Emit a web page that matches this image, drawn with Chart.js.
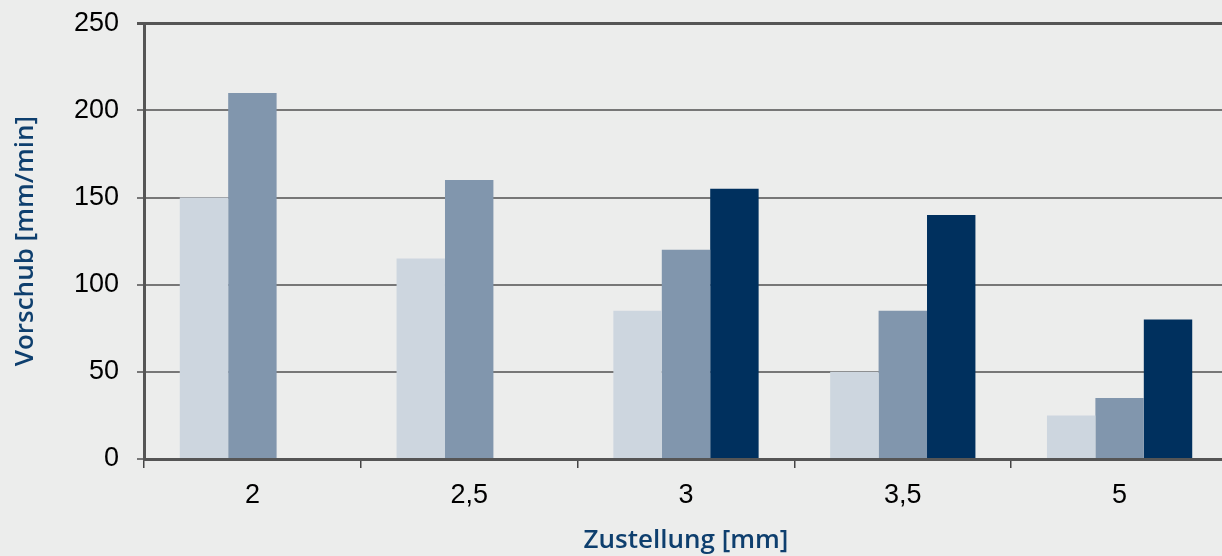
<!DOCTYPE html>
<html>
<head>
<meta charset="utf-8">
<script src="https://cdn.jsdelivr.net/npm/chart.js@4/dist/chart.umd.min.js"></script>
<style>
html,body{margin:0;padding:0;background:#ecedec;overflow:hidden;}
#wrap{width:1228px;height:567px;margin-top:-11px;}
</style>
</head>
<body>
<div id="wrap"><canvas id="c" width="1228" height="567"></canvas></div>
<script>
const zustellung = ["2", "2,5", "3", "3,5", "5"];
const serieHell = [150, 115, 85, 50, 25];
const serieMittel = [210, 160, 120, 85, 35];
const serieDunkel = [null, null, 155, 140, 80];
const yMax = 250;
const yStep = 50;

const blau = "#0e3f6e";

new Chart(document.getElementById("c"), {
type: "bar",
data: {
labels: zustellung,
datasets: [
{ data: serieHell, backgroundColor: "#cdd6df" },
{ data: serieMittel, backgroundColor: "#8196ad" },
{ data: serieDunkel, backgroundColor: "#00305e" }
]
},
options: {
responsive: false,
animation: false,
devicePixelRatio: 1,
layout: { padding: { top: 0, left: 10, right: 0, bottom: 0 } },
plugins: { legend: { display: false }, tooltip: { enabled: false } },
datasets: { bar: { categoryPercentage: 0.67, barPercentage: 1, borderWidth: 0 } },
scales: {
x: {
grid: { drawOnChartArea: false, drawTicks: true, tickLength: 9, color: "#444", lineWidth: 1.5 },
border: { color: "#555", width: 3, z: 1 },
ticks: { color: "#000", font: { family: "Liberation Sans", size: 27 }, padding: 11 },
title: { display: true, text: "Zustellung [mm]", color: blau, font: { family: "Open Sans", size: 26, weight: "600" }, padding: { top: 2, bottom: 0 } },
afterFit: s => { s.height = 97; }
},
y: {
min: 0, max: yMax,
ticks: { stepSize: yStep, color: "#000", font: { family: "Liberation Sans", size: 27 }, padding: 18 },
grid: {
color: ctx => ctx.index === 5 ? "#555" : "#777",
lineWidth: ctx => ctx.index === 5 ? 3 : 2,
drawTicks: true, tickLength: 7
},
border: { color: "#555", width: 3 },
title: { display: true, text: "Vorschub [mm/min]", color: blau, font: { family: "Open Sans", size: 26, weight: "600" }, padding: { top: 0, bottom: 4 } },
afterFit: s => { s.width = 134; }
}
}
}
});
</script>
</body>
</html>
